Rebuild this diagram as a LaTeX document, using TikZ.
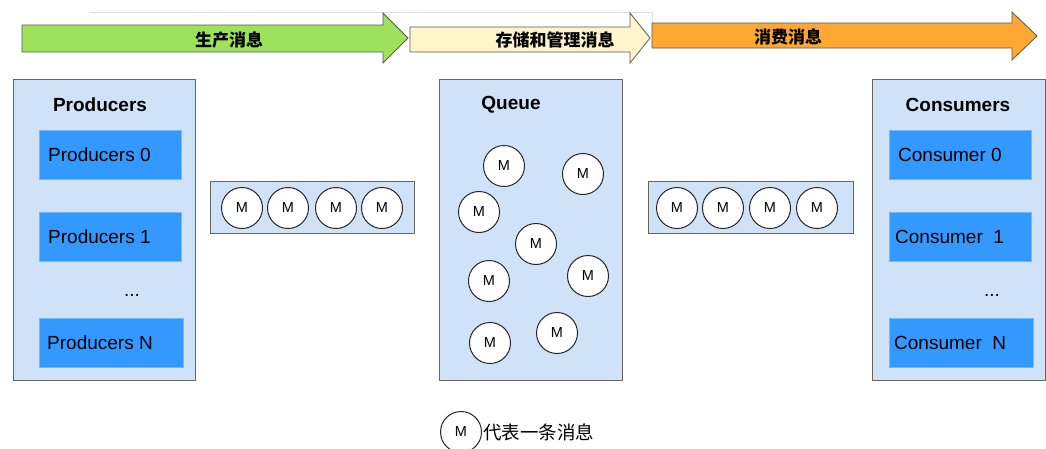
\documentclass[tikz,border=0pt]{standalone}
\usepackage{fontspec}
\setmainfont{Liberation Sans}
\newfontfamily\cjk{Noto Sans CJK SC}
\usetikzlibrary{positioning}
\definecolor{panelblue}{HTML}{CFE2F7}
\definecolor{itemblue}{HTML}{3399FF}
\definecolor{prodgreen}{HTML}{9DE25A}
\definecolor{storecream}{HTML}{FFF5CC}
\definecolor{consorange}{HTML}{FFA733}

\begin{document}
\begin{tikzpicture}[x=1pt,y=-1pt,
  panel/.style={draw=gray!80!black,fill=panelblue,line width=1pt},
  item/.style={fill=itemblue,draw=itemblue!70!white,minimum width=142pt,minimum height=49pt,inner sep=0pt},
  itemtext/.style={anchor=west,inner sep=0pt,font=\fontsize{19}{19}\selectfont},
  msg/.style={circle,draw=black!85,fill=white,line width=1pt,minimum size=41pt,inner sep=0pt,font=\fontsize{14.5}{14.5}\selectfont},
  flow/.style={draw=gray!70!black,line width=0.8pt},
  title/.style={font=\fontsize{19}{19}\selectfont\bfseries},
  step label/.style={font=\cjk\bfseries\fontsize{17}{17}\selectfont}]
\useasboundingbox (0,0) rectangle (1046,448);
% stage arrows
\draw[line width=0.6pt,gray!25](90,12)--(652,12)--(652,48);
\draw[flow,fill=prodgreen](22,25)--(383,25)--(383,13)--(408,38)--(383,63)--(383,52)--(22,52)--cycle;
\draw[flow,fill=storecream](410,27)--(630,27)--(630,13)--(650,38)--(630,63)--(630,52)--(410,52)--cycle;
\draw[flow,fill=consorange](652,23)--(1012,23)--(1012,12)--(1037,36)--(1012,60)--(1012,48)--(652,48)--cycle;
\node[step label](produce) at (229,40){生产消息};
\node[step label](store) at (555,40){存储和管理消息};
\node[step label](consume) at (788,37){消费消息};
% producers
\draw[panel](13,79) rectangle (195,380);
\node[title](prodtitle) at (100,105){Producers};
\node[item](prod0) at (110,154.5){};
\node[item](prod1) at (110,236.5){};
\node[item,minimum width=144pt](prodN) at (111,342.5){};
\node[itemtext](prod0text) at (48,154.5){Producers 0};
\node[itemtext](prod1text) at (48,236.5){Producers 1};
\node[itemtext](prodNtext) at (47,342.5){Producers N};
\node[font=\fontsize{19}{19}\selectfont](proddots) at (132,295){...};
% left message strip
\draw[panel](210,181) rectangle (414,233);
\foreach \x [count=\i] in {242,288,336,382}
  \node[msg](lm\i) at (\x,208){M};
% queue
\draw[panel](439,79) rectangle (622,380);
\node[title](queuetitle) at (511,105){Queue};
\foreach \x/\y [count=\i] in {504/166,583/174,479/212,536/244,489/281,588/276,490/343,557/333}
  \node[msg](qm\i) at (\x,\y){M};
% right message strip
\draw[panel](648,181) rectangle (853,233);
\foreach \x [count=\i] in {677,723,770,817}
  \node[msg](rm\i) at (\x,208){M};
% consumers
\draw[panel](872,79) rectangle (1045,380);
\node[title](constitle) at (958,105){Consumers};
\node[item](cons0) at (960,154.5){};
\node[item](cons1) at (960,236.5){};
\node[item,minimum width=144pt](consN) at (961,342.5){};
\node[itemtext](cons0text) at (898,154.5){Consumer 0};
\node[itemtext](cons1text) at (895,236.5){Consumer\ \ 1};
\node[itemtext](consNtext) at (894,342.5){Consumer\ \ N};
\node[font=\fontsize{19}{19}\selectfont](consdots) at (992,295){...};
% legend
\node[msg](legend) at (461,432){M};
\node[right=0pt of legend,font=\cjk\fontsize{18.5}{18.5}\selectfont,inner sep=1pt](legendtext){代表一条消息};
\end{tikzpicture}
\end{document}
